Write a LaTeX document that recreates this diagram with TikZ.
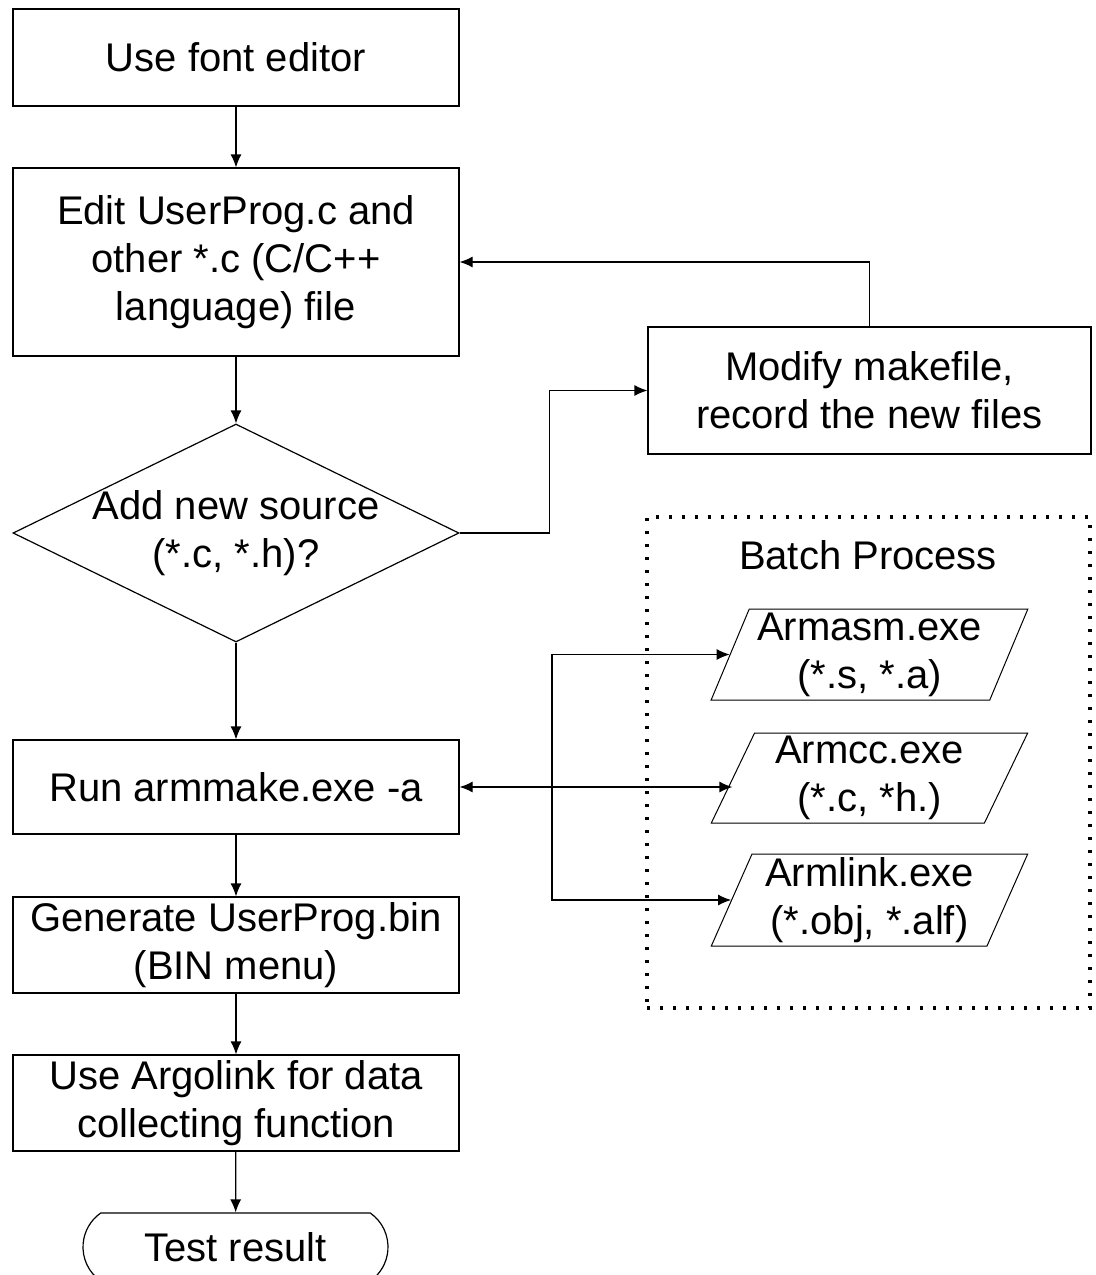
\documentclass[tikz,border=0pt]{standalone}
\usepackage{fontspec}
\setmainfont{Liberation Sans}
\usepackage{tikz}
\usetikzlibrary{arrows,arrows.meta}
\usetikzlibrary{shapes.geometric,shapes.misc}
\tikzset{>={Latex[length=6.5pt,width=5.5pt]}}
\tikzset{
  step box/.style={rectangle,draw,line width=0.6pt,minimum width=223pt,align=center,inner sep=0pt},
  decision/.style={diamond,draw,line width=0.6pt,minimum width=223pt,minimum height=109pt,inner sep=0pt},
  io/.style={trapezium,trapezium left angle=67,trapezium right angle=113,trapezium stretches=true,
    draw,line width=0.5pt,minimum width=158.5pt,align=center,inner sep=0pt},
  terminal/.style={rounded rectangle,rounded rectangle arc length=110,draw,line width=0.6pt,
    minimum width=152.5pt,minimum height=34pt,inner sep=0pt},
  group/.style={draw,line width=1.6pt,dash pattern=on 1.6pt off 4.9pt,minimum width=221.5pt,minimum height=245.5pt},
  flow/.style={line width=0.6pt,->}
}

\begin{document}
\begin{tikzpicture}[x=0.5pt,y=-0.5pt,font=\fontsize{20}{24}\selectfont]
  \useasboundingbox (0,0) rectangle (1096,1275);
  % main column
  \node[step box,minimum height=48.5pt] (font) at (236,57.5) {Use font editor};
  \node[step box,minimum height=94pt] (edit) at (236,262) {Edit UserProg.c and\\other *.c (C/C++\\language) file};
  \node[decision] (add) at (236,533) {};
  \node[align=center] (addtext) at (236,533) {Add new source\\(*.c, *.h)?};
  \node[step box,minimum height=47pt] (run) at (236,787) {Run armmake.exe -a};
  \node[step box,minimum height=48pt] (gen) at (236,945) {Generate UserProg.bin\\(BIN menu)};
  \node[step box,minimum height=48pt] (argo) at (236,1103) {Use Argolink for data\\collecting function};
  \node[terminal] (test) at (235.5,1247) {Test result};
  % side column
  \node[step box,minimum width=221.5pt,minimum height=63.5pt] (modify) at (869.5,390.5) {Modify makefile,\\record the new files};
  \node[group] (batch) at (868.5,762.5) {};
  \node (batchtext) at (868,555) {Batch Process};
  \node[io,minimum height=45.5pt] (asm) at (869.5,654.5) {Armasm.exe\\(*.s, *.a)};
  \node[io,minimum height=45pt] (cc) at (869.5,778) {Armcc.exe\\(*.c, *h.)};
  \node[io,minimum height=46pt] (link) at (869.5,900) {Armlink.exe\\(*.obj, *.alf)};
  \coordinate (split) at (552,787);

  \draw[flow] (font) -- (edit);
  \draw[flow] (edit) -- (add);
  \draw[flow] (add) -- (run);
  \draw[flow] (run) -- (gen);
  \draw[flow] (gen) -- (argo);
  \draw[flow] (argo) -- (test);
  \draw[flow] (add.east) -- ++(90,0) |- (modify.west);
  \draw[flow] (modify.north) |- (edit.east);
  \draw[flow,<->] (run.east) -- (run.east -| cc.west);
  \draw[flow] (split) |- (asm.west);
  \draw[flow] (split) |- (link.west);
\end{tikzpicture}
\end{document}
